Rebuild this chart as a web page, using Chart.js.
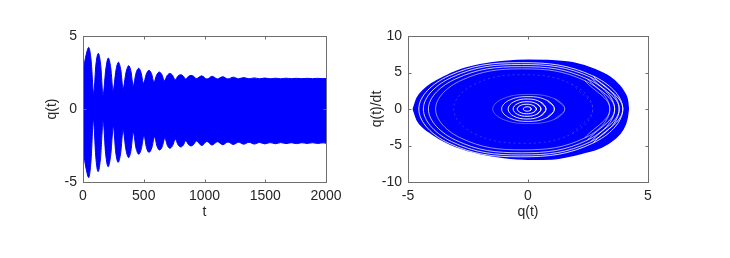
<!DOCTYPE html>
<html>
<head>
<meta charset="utf-8">
<script src="https://cdn.jsdelivr.net/npm/chart.js@4.4.1/dist/chart.umd.min.js"></script>
<style>
html, body { margin: 0; padding: 0; background: #fff; }
#wrap { position: relative; width: 730px; height: 258px; overflow: hidden; }
canvas { position: absolute; top: 0; }
</style>
</head>
<body>
<div id="wrap">
<canvas id="timeChart" width="365" height="258" style="left:0"></canvas>
<canvas id="phaseChart" width="365" height="258" style="left:365px"></canvas>
</div>
<script>
// ---- left panel: edges of the dense q(t) band (lobe peaks, shoulders and notches)
const upperT = [0, 27, 47, 67, 88, 106, 126, 146, 165, 188, 208, 228, 248, 271, 291, 311, 330, 354, 376, 395,
    413, 436, 458, 478, 498, 521, 543, 564, 584, 606, 628, 649, 670, 693, 716, 737, 758, 781, 804, 825,
    845, 867, 889, 911, 932, 977, 1020, 1063, 1106, 1150, 1193, 1237, 1280, 1323, 1366, 1410, 1453, 1497,
    1540, 1584, 1627, 1671, 1714, 1758, 1801, 1845, 1888, 1932, 1975, 2000];
const upperQ = [2.6, 3.75, 4.22, 3.31, 1.07, 3.02, 3.81, 2.98, 0.95, 2.75, 3.49, 2.84, 1.26, 2.64, 3.2, 2.68, 1.4, 2.51, 2.97, 2.57,
    1.6, 2.45, 2.79, 2.49, 1.76, 2.39, 2.65, 2.42, 1.85, 2.33, 2.53, 2.36, 1.94, 2.3, 2.44, 2.31, 2.0, 2.25, 2.35, 2.26,
    2.05, 2.23, 2.3, 2.24, 2.08, 2.27, 2.05, 2.24, 2.06, 2.21, 2.06, 2.18, 2.07, 2.15, 2.07, 2.13, 2.07, 2.12,
    2.07, 2.11, 2.07, 2.11, 2.08, 2.1, 2.08, 2.1, 2.08, 2.1, 2.08, 2.09];
const lowerT = [0, 27, 47, 66, 86, 105, 124, 145, 166, 186, 207, 228, 250, 269, 289, 310, 330, 353, 376, 395,
    414, 436, 459, 480, 502, 522, 543, 566, 589, 609, 630, 652, 674, 694, 714, 737, 760, 782, 804, 825,
    846, 867, 889, 911, 933, 977, 1020, 1063, 1106, 1150, 1193, 1237, 1280, 1323, 1366, 1410, 1453, 1497,
    1540, 1584, 1627, 1671, 1714, 1758, 1801, 1845, 1888, 1932, 1975, 2000];
const lowerQ = [-2.8, -4.15, -4.7, -3.55, -0.75, -3.26, -4.29, -3.28, -0.82, -3.04, -3.95, -3.16, -1.21, -2.94, -3.65, -3.01, -1.44, -2.78, -3.33, -2.83,
    -1.6, -2.67, -3.1, -2.73, -1.83, -2.64, -2.97, -2.67, -1.92, -2.55, -2.81, -2.58, -2.0, -2.49, -2.69, -2.51, -2.08, -2.45, -2.6, -2.48,
    -2.17, -2.43, -2.53, -2.43, -2.19, -2.5, -2.22, -2.47, -2.24, -2.45, -2.26, -2.43, -2.27, -2.41, -2.28, -2.4, -2.29, -2.39,
    -2.3, -2.38, -2.3, -2.37, -2.31, -2.37, -2.31, -2.36, -2.31, -2.36, -2.32, -2.34];
const tTicks = [0, 500, 1000, 1500, 2000];
const qTicks = [-5, 0, 5];

// ---- right panel: phase portrait outline and the white gaps between orbits
const outerTop = [[-4.78, 0], [-4.62, 1.5], [-4.35, 2.6], [-4.0, 3.5], [-3.5, 4.4], [-3.0, 5.15], [-2.0, 6.05], [-1.0, 6.5],
    [0, 6.68], [1.0, 6.62], [1.9, 6.3], [2.8, 5.4], [3.4, 4.4], [3.75, 3.4], [4.0, 2.3], [4.15, 1.0], [4.18, 0]];
const outerBottom = [[-4.78, 0], [-4.62, -1.5], [-4.35, -2.55], [-4.0, -3.4], [-3.5, -4.4], [-3.0, -5.15], [-2.0, -6.1], [-1.0, -6.65],
    [0, -6.88], [1.0, -6.85], [1.6, -6.55], [2.2, -6.1], [3.07, -5.2], [3.6, -4.1], [3.95, -2.8], [4.13, -1.2], [4.18, 0]];
// each gap ring: right, upper-right, top, upper-left, left, lower-left, bottom, lower-right
const gapOuter1 = [[3.95, 0], [2.72, 4.51], [-0.3, 6.35], [-3.32, 4.51], [-4.55, 0], [-3.32, -4.65], [-0.3, -6.55], [2.72, -4.65]];
const gapOuter2 = [[3.8, 0], [2.62, 4.33], [-0.28, 6.1], [-3.18, 4.33], [-4.36, 0], [-3.18, -4.47], [-0.28, -6.3], [2.62, -4.47]];
const gapOuter3 = [[3.61, 0], [2.48, 4.12], [-0.27, 5.8], [-3.02, 4.12], [-4.15, 0], [-3.02, -4.26], [-0.27, -6.0], [2.48, -4.26]];
const gapOuter4 = [[3.41, 0], [2.36, 3.9], [-0.22, 5.5], [-2.8, 3.9], [-3.85, 0], [-2.8, -3.98], [-0.22, -5.6], [2.36, -3.98]];
const gapMid = [[2.7, 0], [1.86, 3.34], [-0.2, 4.7], [-2.26, 3.34], [-3.1, 0], [-2.26, -3.34], [-0.2, -4.7], [1.86, -3.34]];
const gapInner6 = [[1.53, 0], [1.1, 1.42], [0.03, 2.0], [-1.04, 1.42], [-1.47, 0], [-1.04, -1.42], [0.03, -2.0], [1.1, -1.42]];
const gapInner5 = [[1.1, 0], [0.78, 1.21], [0, 1.7], [-0.78, 1.21], [-1.1, 0], [-0.78, -1.21], [0, -1.7], [0.78, -1.21]];
const gapInner4 = [[0.75, 0], [0.52, 0.97], [-0.04, 1.37], [-0.6, 0.97], [-0.83, 0], [-0.6, -0.97], [-0.04, -1.37], [0.52, -0.97]];
const gapInner3 = [[0.54, 0], [0.37, 0.71], [-0.04, 1.0], [-0.45, 0.71], [-0.62, 0], [-0.45, -0.71], [-0.04, -1.0], [0.37, -0.71]];
const gapInner2 = [[0.35, 0], [0.23, 0.46], [-0.05, 0.65], [-0.33, 0.46], [-0.45, 0], [-0.33, -0.46], [-0.05, -0.65], [0.23, -0.46]];
const gapInner1 = [[0.14, 0], [0.09, 0.21], [-0.03, 0.3], [-0.15, 0.21], [-0.2, 0], [-0.15, -0.21], [-0.03, -0.3], [0.09, -0.21]];
const phaseXTicks = [-5, 0, 5];
const phaseYTicks = [-10, -5, 0, 5, 10];

const BLUE = '#0000ff';
const TEXT = '#262626';
Chart.defaults.font.family = "'Liberation Sans', Arial, sans-serif";
Chart.defaults.font.size = 14;
Chart.defaults.color = TEXT;
Chart.defaults.animation = false;

// matlab style box with inward ticks
const boxTicks = {
    id: 'boxTicks',
    afterDraw(chart) {
        const {ctx, chartArea: a, scales: {x, y}} = chart;
        ctx.save();
        ctx.strokeStyle = '#6e6e6e';
        ctx.lineWidth = 1;
        const l = Math.round(a.left) + 0.5, r = Math.round(a.right) + 0.5;
        const t = Math.round(a.top) + 0.5, b = Math.round(a.bottom) + 0.5;
        ctx.strokeRect(l, t, r - l, b - t);
        ctx.beginPath();
        x.ticks.forEach(tk => {
            const px = Math.round(x.getPixelForValue(tk.value)) + 0.5;
            ctx.moveTo(px, b); ctx.lineTo(px, b - 3);
            ctx.moveTo(px, t); ctx.lineTo(px, t + 3);
        });
        y.ticks.forEach(tk => {
            const py = Math.round(y.getPixelForValue(tk.value)) + 0.5;
            ctx.moveTo(l, py); ctx.lineTo(l + 3, py);
            ctx.moveTo(r, py); ctx.lineTo(r - 3, py);
        });
        ctx.stroke();
        ctx.restore();
    }
};

function axis(min, max, tickVals, title, size, horizontal) {
    return {
        type: 'linear',
        min: min,
        max: max,
        grid: { display: false, drawTicks: false },
        border: { display: false },
        afterBuildTicks: s => { s.ticks = tickVals.map(v => ({ value: v })); },
        afterFit: s => { if (horizontal) s.height = size; else s.width = size; },
        ticks: { padding: horizontal ? 6 : 6, autoSkip: false, maxRotation: 0, color: TEXT,
                 callback: v => String(v) },
        title: { display: true, text: title, padding: 0, color: TEXT, font: { size: 14 } }
    };
}

const zip = (xs, ys) => xs.map((v, i) => ({ x: v, y: ys[i] }));
const pts = arr => arr.map(([x, y]) => ({ x, y }));
const loop = arr => pts([arr[7], ...arr, arr[0], arr[1]]);

// left: q(t)
new Chart(document.getElementById('timeChart'), {
    type: 'line',
    data: {
        datasets: [
            { data: zip(upperT, upperQ), borderColor: BLUE, backgroundColor: BLUE, borderWidth: 1,
              fill: 'origin', pointRadius: 0, cubicInterpolationMode: 'monotone' },
            { data: zip(lowerT, lowerQ), borderColor: BLUE, backgroundColor: BLUE, borderWidth: 1,
              fill: 'origin', pointRadius: 0, cubicInterpolationMode: 'monotone' }
        ]
    },
    options: {
        responsive: false,
        layout: { padding: { left: 43.6, top: 36, right: 39, bottom: 37 } },
        plugins: { legend: { display: false }, tooltip: { enabled: false } },
        scales: {
            x: axis(0, 2000, tTicks, 't', 39, true),
            y: axis(-5, 5, qTicks, 'q(t)', 39.4, false)
        }
    },
    plugins: [boxTicks]
});

// right: phase portrait
const ring = (arr, alpha, dash) => ({
    data: loop(arr), borderColor: 'rgba(255,255,255,' + alpha + ')', borderWidth: 1,
    borderDash: dash || [], pointRadius: 0, tension: 0.4, fill: false, order: 0, showLine: true
});
const half = arr => ({
    data: pts(arr), borderColor: BLUE, backgroundColor: BLUE, borderWidth: 1.5, fill: 'origin',
    pointRadius: 0, cubicInterpolationMode: 'monotone', showLine: true, order: 2
});
new Chart(document.getElementById('phaseChart'), {
    type: 'scatter',
    data: {
        datasets: [
            half(outerTop),
            half(outerBottom),
            ring(gapOuter1, 0.85),
            ring(gapOuter2, 0.8),
            ring(gapOuter3, 0.75),
            ring(gapOuter4, 0.55),
            ring(gapMid, 0.2, [2, 3]),
            ring(gapInner6, 0.35),
            ring(gapInner5, 0.8),
            ring(gapInner4, 0.9),
            ring(gapInner3, 0.95),
            ring(gapInner2, 0.95),
            ring(gapInner1, 0.95)
        ]
    },
    options: {
        responsive: false,
        layout: { padding: { left: 4.1, top: 36, right: 82, bottom: 37 } },
        plugins: { legend: { display: false }, tooltip: { enabled: false } },
        scales: {
            x: axis(-5, 5, phaseXTicks, 'q(t)', 39, true),
            y: axis(-10, 10, phaseYTicks, 'q(t)/dt', 38.9, false)
        }
    },
    plugins: [boxTicks]
});
</script>
</body>
</html>
